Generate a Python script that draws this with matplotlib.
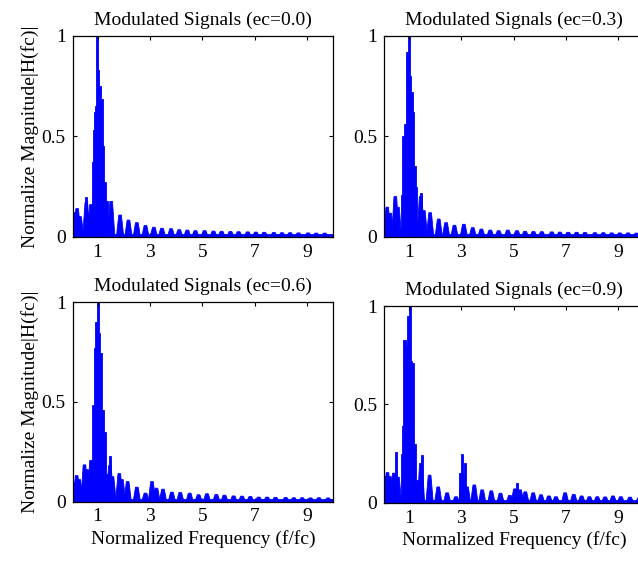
import matplotlib
matplotlib.use("Agg")
import matplotlib.pyplot as plt

plt.rcParams["font.family"] = ["Liberation Serif", "DejaVu Serif"]
plt.rcParams["font.size"] = 14

# ---- spectrum data: side-lobe centres/peaks and narrow main-band components ----
ecc_labels = ["0.0", "0.3", "0.6", "0.9"]

lobe_f_00 = [0.12, 0.22, 0.33, 0.57, 0.75, 1.52, 1.86, 2.18, 2.50, 2.83, 3.15, 3.46,
             3.81, 4.12, 4.43, 4.74, 5.09, 5.43, 5.74, 6.08, 6.39, 6.74, 7.05, 7.37,
             7.74, 8.05, 8.36, 8.68, 9.05, 9.36, 9.68]
lobe_h_00 = [0.12, 0.14, 0.10, 0.17, 0.16, 0.176, 0.108, 0.083, 0.07, 0.056, 0.047, 0.042,
             0.04, 0.035, 0.033, 0.03, 0.03, 0.028, 0.027, 0.026, 0.025, 0.024, 0.023, 0.022,
             0.021, 0.02, 0.02, 0.019, 0.019, 0.018, 0.018]
spike_f_00 = [0.57, 0.81, 0.85, 0.89, 0.93, 0.985, 1.03, 1.09, 1.16, 1.22, 1.29, 1.35]
spike_h_00 = [0.20, 0.37, 0.53, 0.62, 0.65, 1.00, 0.83, 0.75, 0.685, 0.45, 0.275, 0.18]

lobe_f_03 = [0.17, 0.28, 0.48, 0.58, 1.45, 1.57, 1.81, 2.14, 2.42, 2.74, 3.10, 3.44,
             3.77, 4.11, 4.43, 4.78, 5.13, 5.44, 5.76, 6.08, 6.46, 6.77, 7.09, 7.41,
             7.73, 8.11, 8.43, 8.75, 9.06, 9.38, 9.70]
lobe_h_03 = [0.147, 0.117, 0.20, 0.147, 0.20, 0.13, 0.12, 0.088, 0.07, 0.057, 0.062, 0.045,
             0.038, 0.033, 0.03, 0.033, 0.03, 0.027, 0.026, 0.025, 0.024, 0.023, 0.022, 0.022,
             0.021, 0.02, 0.02, 0.019, 0.019, 0.019, 0.018]
spike_f_03 = [0.72, 0.78, 0.86, 0.92, 1.00, 1.05, 1.11, 1.16, 1.22, 1.28, 1.46]
spike_h_03 = [0.21, 0.50, 0.56, 0.92, 1.00, 0.80, 0.72, 0.62, 0.35, 0.25, 0.22]

lobe_f_06 = [0.12, 0.20, 0.30, 0.50, 0.60, 0.75, 1.47, 1.57, 1.83, 1.93, 2.15, 2.50,
             2.83, 3.08, 3.25, 3.50, 3.84, 4.16, 4.52, 4.86, 5.18, 5.54, 5.85, 6.20,
             6.52, 6.84, 7.16, 7.48, 7.80, 8.19, 8.50, 8.82, 9.14, 9.46, 9.81]
lobe_h_06 = [0.092, 0.13, 0.11, 0.184, 0.16, 0.206, 0.18, 0.125, 0.14, 0.11, 0.10, 0.072,
             0.042, 0.10, 0.067, 0.062, 0.047, 0.045, 0.042, 0.034, 0.039, 0.035, 0.032, 0.028,
             0.027, 0.025, 0.022, 0.022, 0.021, 0.02, 0.019, 0.019, 0.018, 0.019, 0.018]
spike_f_06 = [0.83, 0.90, 0.96, 1.01, 1.06, 1.13, 1.21, 1.29, 1.35, 1.48]
spike_h_06 = [0.486, 0.77, 0.90, 1.00, 0.846, 0.745, 0.46, 0.35, 0.14, 0.23]

lobe_f_09 = [0.08, 0.18, 0.27, 0.42, 0.58, 1.46, 1.79, 2.12, 2.46, 2.80, 3.05, 3.22,
             3.50, 3.80, 4.15, 4.50, 4.86, 5.05, 5.25, 5.45, 5.75, 6.05, 6.35, 6.62,
             6.97, 7.30, 7.60, 7.90, 8.20, 8.50, 8.80, 9.10, 9.45, 9.80]
lobe_h_09 = [0.133, 0.153, 0.133, 0.15, 0.13, 0.20, 0.14, 0.08, 0.05, 0.03, 0.15, 0.08,
             0.09, 0.065, 0.06, 0.048, 0.037, 0.07, 0.065, 0.055, 0.05, 0.04, 0.034, 0.03,
             0.05, 0.042, 0.034, 0.03, 0.03, 0.029, 0.034, 0.03, 0.028, 0.025]
spike_f_09 = [0.50, 0.72, 0.77, 0.83, 0.91, 0.97, 1.03, 1.09, 1.17, 1.24, 1.32, 1.51,
              2.95, 3.03, 3.13, 5.12]
spike_h_09 = [0.26, 0.25, 0.39, 0.83, 0.80, 0.95, 1.00, 0.72, 0.71, 0.30, 0.115, 0.243,
              0.15, 0.25, 0.20, 0.10]

noise_floor = 0.008
x_ticks = [1, 3, 5, 7, 9]
y_ticks = [0, 0.5, 1]
y_tick_labels = ["0", "0.5", "1"]

panels = [
    (lobe_f_00, lobe_h_00, spike_f_00, spike_h_00),
    (lobe_f_03, lobe_h_03, spike_f_03, spike_h_03),
    (lobe_f_06, lobe_h_06, spike_f_06, spike_h_06),
    (lobe_f_09, lobe_h_09, spike_f_09, spike_h_09),
]

# axes rectangles [left, bottom, width, height] in figure fraction
rects = [
    [0.114, 0.578, 0.408, 0.358],
    [0.602, 0.578, 0.408, 0.358],
    [0.114, 0.106, 0.408, 0.355],
    [0.602, 0.104, 0.408, 0.350],
]

BLUE = "#0000ff"

fig = plt.figure(figsize=(6.38, 5.61), dpi=100)

for i, ((lf, lh, sf, sh), rect, ec) in enumerate(zip(panels, rects, ecc_labels)):
    ax = fig.add_axes(rect)
    # side lobes as trapezoidal humps
    for f, h in zip(lf, lh):
        ax.fill([f - 0.14, f - 0.05, f + 0.05, f + 0.14], [0, h, h, 0],
                color=BLUE, lw=0.6, ec=BLUE)
    # narrow main-band components
    ax.bar(sf, sh, width=0.08, color=BLUE, edgecolor=BLUE, linewidth=0.6)
    ax.axhline(noise_floor, color=BLUE, lw=2.0)

    ax.set_xlim(0.05, 10.0)
    ax.set_ylim(0, 1)
    ax.set_xticks(x_ticks)
    ax.set_yticks(y_ticks)
    ax.set_yticklabels(y_tick_labels)
    ax.tick_params(direction="in", length=3, width=0.8, top=True, right=True,
                   labelsize=14, pad=5)
    for s in ax.spines.values():
        s.set_linewidth(0.9)
    ax.set_title(f"Modulated Signals (ec={ec})", fontsize=14, pad=8)
    if i % 2 == 0:
        ax.set_ylabel("Normalize Magnitude|H(fc)|", fontsize=14, labelpad=2)
    if i >= 2:
        ax.set_xlabel("Normalized Frequency (f/fc)", fontsize=14, labelpad=3)

fig.savefig("out.png", dpi=100)
